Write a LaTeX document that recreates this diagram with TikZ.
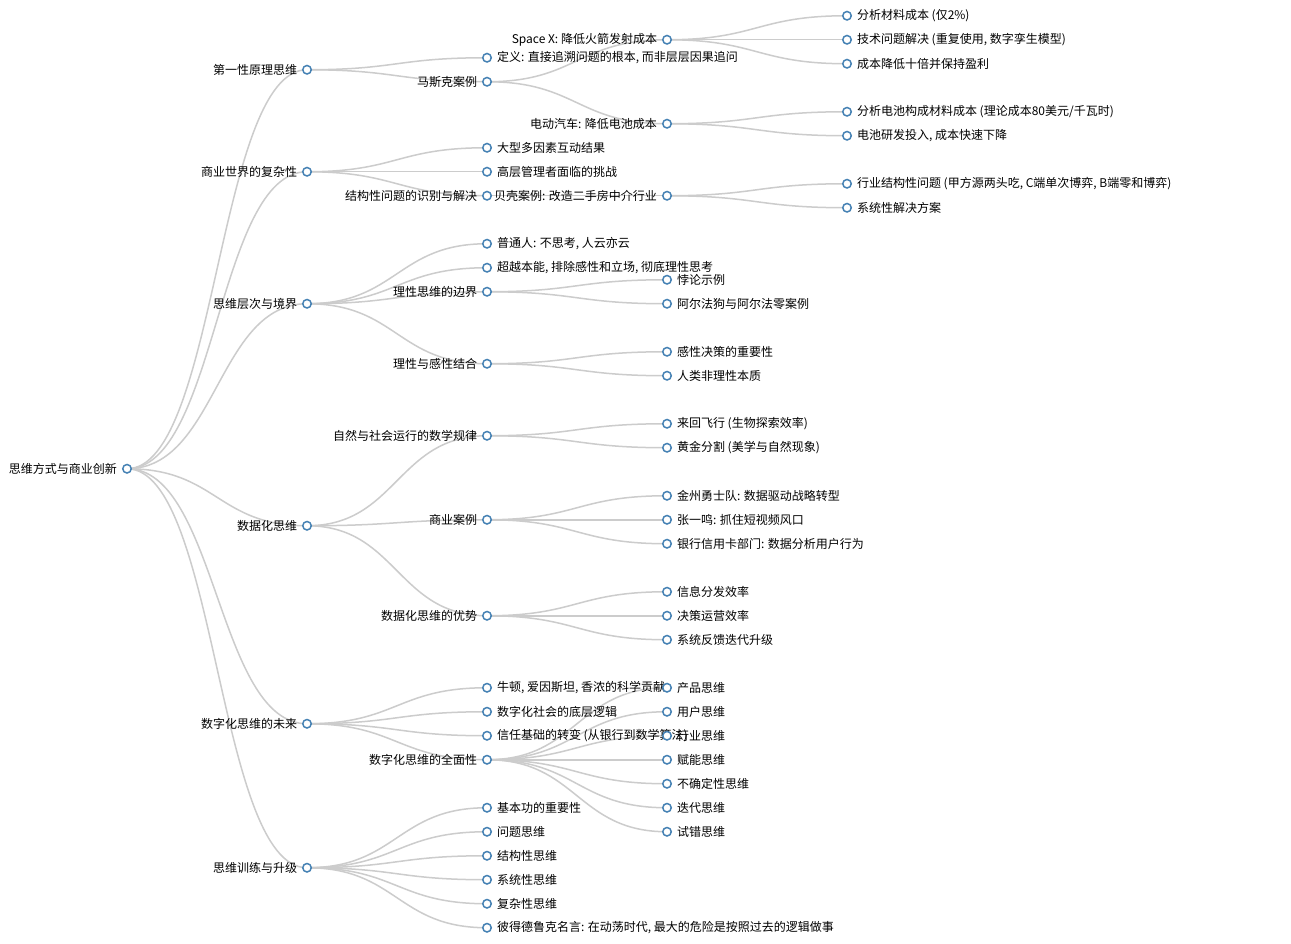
\documentclass[tikz,border=0pt]{standalone}
\usepackage{fontspec}
\newfontfamily\cjk{Noto Sans CJK SC}
\usetikzlibrary{calc}
\pgfdeclarelayer{bg}
\pgfdeclarelayer{links}
\pgfsetlayers{bg,links,main}
\definecolor{dotc}{HTML}{4682B4}
\definecolor{linkc}{HTML}{CCCCCC}
\tikzset{
  dot/.style={circle, draw=dotc, fill=white, line width=1.5pt, minimum size=8.5pt, inner sep=0pt},
  link/.style={draw=linkc, line width=1.5pt},
  lab/.style={font=\cjk\fontsize{12pt}{14pt}\selectfont, inner sep=0pt, text=black},
  L/.style={label={[lab]left:#1}},
  R/.style={label={[lab]right:#1}},
}
\newcommand\lk[2]{\draw[link] (#1.center) .. controls ([xshift=90pt]#1.center) and ([xshift=-90pt]#2.center) .. (#2.center);}
\begin{document}
\begin{tikzpicture}[x=1pt,y=-1pt,label distance=4.8pt]
\begin{pgfonlayer}{bg}
\fill[white] (0,-0.75) rectangle (1291,943.25);
\end{pgfonlayer}
\useasboundingbox (0,-0.75) rectangle (1291,943.25);
% root and level 1
\node[dot,L=思维方式与商业创新] (root) at (127,468) {};
\node[dot,L=第一性原理思维] (a1) at (307,69) {};
\node[dot,L=商业世界的复杂性] (a2) at (307,171) {};
\node[dot,L=思维层次与境界] (a3) at (307,303) {};
\node[dot,L=数据化思维] (a4) at (307,525) {};
\node[dot,L=数字化思维的未来] (a5) at (307,723) {};
\node[dot,L=思维训练与升级] (a6) at (307,867) {};
% branch 1
\node[dot,R={定义: 直接追溯问题的根本, 而非层层因果追问}] (b11) at (487,57) {};
\node[dot,L=马斯克案例] (b12) at (487,81) {};
\node[dot,L=Space X: 降低火箭发射成本] (c121) at (667,39) {};
\node[dot,R=分析材料成本 (仅2\%)] (d1) at (847,15) {};
\node[dot,R={技术问题解决 (重复使用, 数字孪生模型)}] (d2) at (847,39) {};
\node[dot,R=成本降低十倍并保持盈利] (d3) at (847,63) {};
\node[dot,L=电动汽车: 降低电池成本] (c122) at (667,123) {};
\node[dot,R=分析电池构成材料成本 (理论成本80美元/千瓦时)] (d4) at (847,111) {};
\node[dot,R={电池研发投入, 成本快速下降}] (d5) at (847,135) {};
% branch 2
\node[dot,R=大型多因素互动结果] (b21) at (487,147) {};
\node[dot,R=高层管理者面临的挑战] (b22) at (487,171) {};
\node[dot,L=结构性问题的识别与解决] (b23) at (487,195) {};
\node[dot,L=贝壳案例: 改造二手房中介行业] (c231) at (667,195) {};
\node[dot,R={行业结构性问题 (甲方源两头吃, C端单次博弈, B端零和博弈)}] (d6) at (847,183) {};
\node[dot,R=系统性解决方案] (d7) at (847,207) {};
% branch 3
\node[dot,R={普通人: 不思考, 人云亦云}] (b31) at (487,243) {};
\node[dot,R={超越本能, 排除感性和立场, 彻底理性思考}] (b32) at (487,267) {};
\node[dot,L=理性思维的边界] (b33) at (487,291) {};
\node[dot,R=悖论示例] (c331) at (667,279) {};
\node[dot,R=阿尔法狗与阿尔法零案例] (c332) at (667,303) {};
\node[dot,L=理性与感性结合] (b34) at (487,363) {};
\node[dot,R=感性决策的重要性] (c341) at (667,351) {};
\node[dot,R=人类非理性本质] (c342) at (667,375) {};
% branch 4
\node[dot,L=自然与社会运行的数学规律] (b41) at (487,435) {};
\node[dot,R=来回飞行 (生物探索效率)] (c411) at (667,423) {};
\node[dot,R=黄金分割 (美学与自然现象)] (c412) at (667,447) {};
\node[dot,L=商业案例] (b42) at (487,519) {};
\node[dot,R=金州勇士队: 数据驱动战略转型] (c421) at (667,495) {};
\node[dot,R=张一鸣: 抓住短视频风口] (c422) at (667,519) {};
\node[dot,R=银行信用卡部门: 数据分析用户行为] (c423) at (667,543) {};
\node[dot,L=数据化思维的优势] (b43) at (487,615) {};
\node[dot,R=信息分发效率] (c431) at (667,591) {};
\node[dot,R=决策运营效率] (c432) at (667,615) {};
\node[dot,R=系统反馈迭代升级] (c433) at (667,639) {};
% branch 5
\node[dot,R={牛顿, 爱因斯坦, 香浓的科学贡献}] (b51) at (487,687) {};
\node[dot,R=数字化社会的底层逻辑] (b52) at (487,711) {};
\node[dot,R=信任基础的转变 (从银行到数学算法)] (b53) at (487,735) {};
\node[dot,L=数字化思维的全面性] (b54) at (487,759) {};
\node[dot,R=产品思维] (c541) at (667,687) {};
\node[dot,R=用户思维] (c542) at (667,711) {};
\node[dot,R=行业思维] (c543) at (667,735) {};
\node[dot,R=赋能思维] (c544) at (667,759) {};
\node[dot,R=不确定性思维] (c545) at (667,783) {};
\node[dot,R=迭代思维] (c546) at (667,807) {};
\node[dot,R=试错思维] (c547) at (667,831) {};
% branch 6
\node[dot,R=基本功的重要性] (b61) at (487,807) {};
\node[dot,R=问题思维] (b62) at (487,831) {};
\node[dot,R=结构性思维] (b63) at (487,855) {};
\node[dot,R=系统性思维] (b64) at (487,879) {};
\node[dot,R=复杂性思维] (b65) at (487,903) {};
\node[dot,R={彼得德鲁克名言: 在动荡时代, 最大的危险是按照过去的逻辑做事}] (b66) at (487,927) {};
% links
\begin{pgfonlayer}{links}
\foreach \c in {a1,a2,a3,a4,a5,a6} {\lk{root}{\c}}
\foreach \c in {b11,b12} {\lk{a1}{\c}}
\foreach \c in {c121,c122} {\lk{b12}{\c}}
\foreach \c in {d1,d2,d3} {\lk{c121}{\c}}
\foreach \c in {d4,d5} {\lk{c122}{\c}}
\foreach \c in {b21,b22,b23} {\lk{a2}{\c}}
\lk{b23}{c231}
\foreach \c in {d6,d7} {\lk{c231}{\c}}
\foreach \c in {b31,b32,b33,b34} {\lk{a3}{\c}}
\foreach \c in {c331,c332} {\lk{b33}{\c}}
\foreach \c in {c341,c342} {\lk{b34}{\c}}
\foreach \c in {b41,b42,b43} {\lk{a4}{\c}}
\foreach \c in {c411,c412} {\lk{b41}{\c}}
\foreach \c in {c421,c422,c423} {\lk{b42}{\c}}
\foreach \c in {c431,c432,c433} {\lk{b43}{\c}}
\foreach \c in {b51,b52,b53,b54} {\lk{a5}{\c}}
\foreach \c in {c541,c542,c543,c544,c545,c546,c547} {\lk{b54}{\c}}
\foreach \c in {b61,b62,b63,b64,b65,b66} {\lk{a6}{\c}}
\end{pgfonlayer}
\end{tikzpicture}
\end{document}
